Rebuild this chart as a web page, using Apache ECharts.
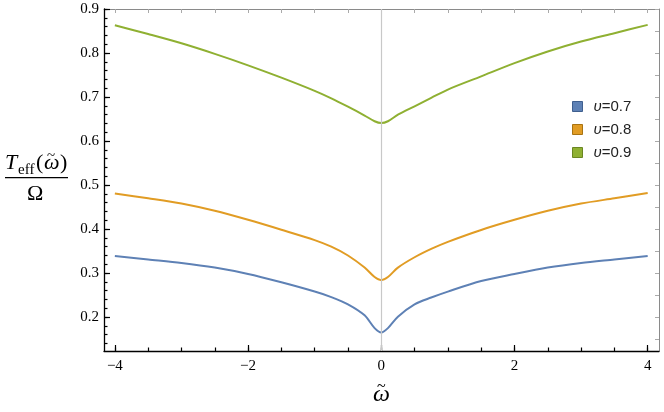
<!DOCTYPE html>
<html>
<head>
<meta charset="utf-8">
<script src="https://cdn.jsdelivr.net/npm/echarts@6/dist/echarts.min.js"></script>
<style>
  html, body { margin: 0; padding: 0; background: #fff; }
  #main { width: 664px; height: 412px; }
</style>
</head>
<body>
<div id="main"></div>
<script>
// x positions (omega tilde)
const omega = [-4, -3.5, -3, -2.5, -2, -1.5, -1, -0.75, -0.5, -0.25, -0.1, 0, 0.1, 0.25, 0.5, 0.75, 1, 1.5, 2, 2.5, 3, 3.5, 4]
// T_eff / Omega for each upsilon
const teff07 = [0.339, 0.331, 0.323, 0.3125, 0.298, 0.279, 0.258, 0.2455, 0.229, 0.204, 0.175, 0.165, 0.175, 0.201, 0.229, 0.2445, 0.258, 0.282, 0.298, 0.3125, 0.323, 0.331, 0.339]
const teff08 = [0.481, 0.470, 0.458, 0.4415, 0.421, 0.3985, 0.375, 0.360, 0.340, 0.3125, 0.291, 0.284, 0.291, 0.3125, 0.336, 0.355, 0.371, 0.398, 0.421, 0.4415, 0.458, 0.470, 0.482]
const teff09 = [0.863, 0.843, 0.822, 0.798, 0.772, 0.744, 0.714, 0.697, 0.678, 0.658, 0.645, 0.641, 0.645, 0.660, 0.679, 0.698, 0.717, 0.747, 0.777, 0.8035, 0.826, 0.845, 0.864]
const seriesNames = ['υ=0.7', 'υ=0.8', 'υ=0.9']
const colors = ['#5e81b5', '#e19c24', '#8fb032']
const borders = ['#3f5f8f', '#a87312', '#6a8622']
const xMajor = [-4, -2, 0, 2, 4]
const xMinor = [-4, -3.5, -3, -2.5, -2, -1.5, -1, -0.5, 0, 0.5, 1, 1.5, 2, 2.5, 3, 3.5, 4]
const yMajor = [0.2, 0.3, 0.4, 0.5, 0.6, 0.7, 0.8, 0.9]
const yMinor = [0.14, 0.16, 0.18, 0.2, 0.22, 0.24, 0.26, 0.28, 0.3, 0.32, 0.34, 0.36, 0.38, 0.4, 0.42, 0.44, 0.46, 0.48, 0.5,
  0.52, 0.54, 0.56, 0.58, 0.6, 0.62, 0.64, 0.66, 0.68, 0.7, 0.72, 0.74, 0.76, 0.78, 0.8, 0.82, 0.84, 0.86, 0.88, 0.9]
const yRight = [0.15, 0.2, 0.25, 0.3, 0.35, 0.4, 0.45, 0.5, 0.55, 0.6, 0.65, 0.7, 0.75, 0.8, 0.85, 0.9]

const XMIN = -4.163
const XMAX = 4.17
const YMIN = 0.123
const YMAX = 0.9
const serif = 'Liberation Serif'
const gridBox = { left: 104, right: 5, top: 9, bottom: 61, outerBoundsMode: 'none' }

const pairs = (ys) => omega.map((x, i) => [x, ys[i]])
const minus = (v) => String(v).replace('-', '\u2212')

const baseX = { type: 'value', min: XMIN, max: XMAX, splitLine: { show: false } }
const baseY = { type: 'value', min: YMIN, max: YMAX, splitLine: { show: false } }

const option = {
    animation: false,
    // grid 1 sits on top of grid 0 and only carries the minor ticks
    grid: [Object.assign({}, gridBox), Object.assign({}, gridBox)],
    legend: {
        orient: 'vertical',
        left: 567,
        top: 94,
        itemWidth: 10,
        itemHeight: 10,
        itemGap: 8,
        icon: 'rect',
        data: seriesNames.map((n, i) => ({ name: n, itemStyle: { color: colors[i], borderColor: borders[i], borderWidth: 1 } })),
        formatter: (n) => '{i|υ}' + n.slice(1),
        textStyle: {
            fontFamily: 'Liberation Sans',
            fontSize: 15,
            color: '#222',
            padding: [0, 0, 0, 6],
            lineHeight: 14,
            rich: { i: { fontStyle: 'italic', fontFamily: 'Liberation Sans', fontSize: 15, color: '#222' } }
        }
    },
    xAxis: [
        Object.assign({}, baseX, {
            gridIndex: 0,
            position: 'bottom',
            axisLine: { onZero: false, lineStyle: { color: '#000', width: 1.3 } },
            axisTick: { inside: true, length: 6, customValues: xMajor, lineStyle: { color: '#000', width: 1.2 } },
            axisLabel: { customValues: xMajor, formatter: minus, margin: 8, fontFamily: serif, fontSize: 15, color: '#000' }
        }),
        Object.assign({}, baseX, {
            gridIndex: 0,
            position: 'top',
            axisLine: { onZero: false, lineStyle: { color: '#8a8a8a', width: 1 } },
            axisTick: { inside: true, length: 4, customValues: xMinor, lineStyle: { color: '#aaa', width: 1 } },
            axisLabel: { show: false }
        }),
        Object.assign({}, baseX, {
            gridIndex: 1,
            position: 'bottom',
            axisLine: { show: false, onZero: false },
            axisTick: { inside: true, length: 3.5, customValues: xMinor, lineStyle: { color: '#000', width: 1.2 } },
            axisLabel: { show: false }
        })
    ],
    yAxis: [
        Object.assign({}, baseY, {
            gridIndex: 0,
            position: 'left',
            axisLine: { onZero: false, lineStyle: { color: '#000', width: 1.3 } },
            axisTick: { inside: true, length: 6, customValues: yMajor, lineStyle: { color: '#000', width: 1.2 } },
            axisLabel: { customValues: yMajor, formatter: (v) => v.toFixed(1), margin: 5, fontFamily: serif, fontSize: 15, color: '#000' }
        }),
        Object.assign({}, baseY, {
            gridIndex: 0,
            position: 'right',
            axisLine: { onZero: false, lineStyle: { color: '#8a8a8a', width: 1 } },
            axisTick: { inside: true, length: 4, customValues: yRight, lineStyle: { color: '#aaa', width: 1 } },
            axisLabel: { show: false }
        }),
        Object.assign({}, baseY, {
            gridIndex: 1,
            position: 'left',
            axisLine: { show: false, onZero: false },
            axisTick: { inside: true, length: 3.5, customValues: yMinor, lineStyle: { color: '#000', width: 1.2 } },
            axisLabel: { show: false }
        })
    ],
    series: [teff07, teff08, teff09].map((ys, i) => ({
        name: seriesNames[i],
        type: 'line',
        xAxisIndex: 0,
        yAxisIndex: 0,
        data: pairs(ys),
        smooth: 0.3,
        showSymbol: false,
        itemStyle: { color: colors[i], borderColor: borders[i] },
        lineStyle: { color: colors[i], width: 2 },
        // vertical axis line at omega = 0
        markLine: i === 0 ? {
            silent: true,
            symbol: ['none', 'none'],
            label: { show: false },
            lineStyle: { color: '#c8c8c8', width: 1.2, type: 'solid' },
            data: [{ xAxis: 0 }]
        } : undefined,
        z: 3
    })),
    graphic: [
        // y axis title: T_eff(omega~) / Omega
        { type: 'text', left: 5, top: 152, style: { text: 'T', font: 'italic 22px "Liberation Serif"', fill: '#000' } },
        { type: 'text', left: 18, top: 163, style: { text: 'eff', font: '15px "Liberation Serif"', fill: '#000' } },
        { type: 'text', left: 36, top: 152, style: { text: '(', font: '22px "Liberation Serif"', fill: '#000' } },
        { type: 'text', left: 44, top: 152, style: { text: 'ω', font: 'italic 22px "Liberation Serif"', fill: '#000' } },
        { type: 'text', left: 47, top: 149, style: { text: '~', font: '15px "Liberation Serif"', fill: '#000' } },
        { type: 'text', left: 60, top: 152, style: { text: ')', font: '22px "Liberation Serif"', fill: '#000' } },
        { type: 'rect', shape: { x: 5, y: 177, width: 63, height: 1.2 }, style: { fill: '#000' } },
        { type: 'text', left: 27, top: 183, style: { text: 'Ω', font: '22px "Liberation Serif"', fill: '#000' } },
        // x axis title: omega~
        { type: 'text', left: 373, top: 383, style: { text: 'ω', font: 'italic 24px "Liberation Serif"', fill: '#000' } },
        { type: 'text', left: 377, top: 379, style: { text: '~', font: '16px "Liberation Serif"', fill: '#000' } }
    ]
}

const myChart = echarts.init(document.getElementById('main'))
myChart.setOption(option)
</script>
</body>
</html>
